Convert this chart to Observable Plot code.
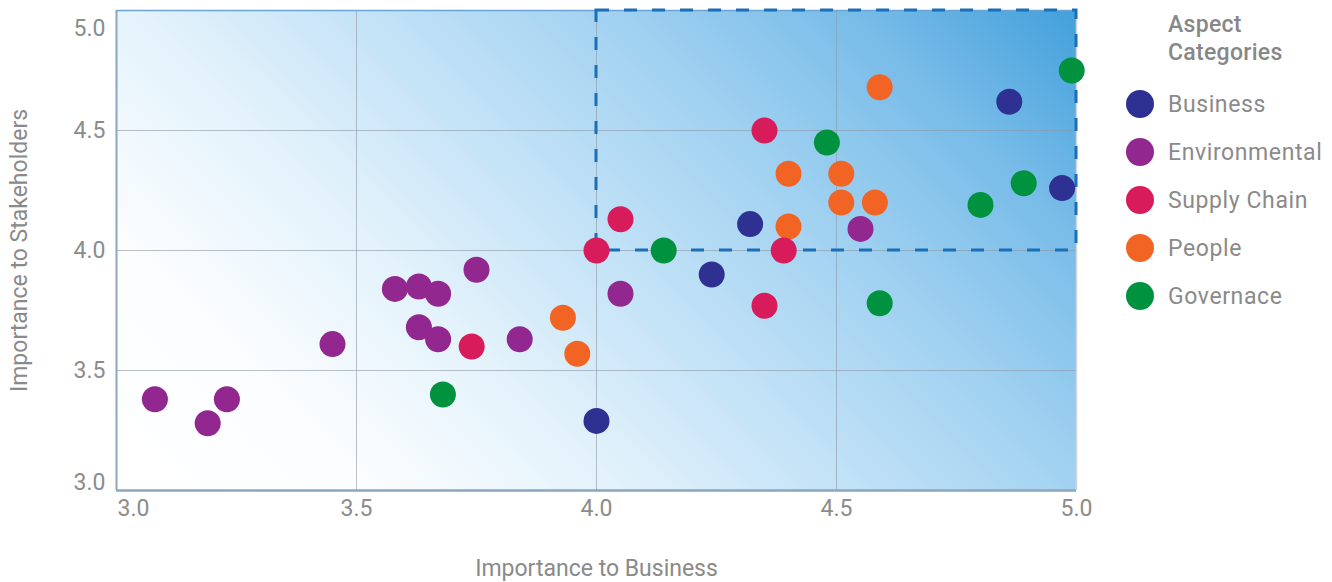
<!DOCTYPE html>
<html>
<head>
<meta charset="utf-8">
<script src="https://cdn.jsdelivr.net/npm/d3@7"></script>
<script src="https://cdn.jsdelivr.net/npm/@observablehq/plot@0.6"></script>
<style>
  html, body { margin: 0; padding: 0; background: #fff; }
  #wrap { position: relative; width: 1332px; height: 582px; font-family: Roboto, "DejaVu Sans", sans-serif; color: #8a8a8a; }
  #legend-title { position: absolute; left: 1168px; top: 11px; font-size: 23px; line-height: 28px; font-weight: 500; color: #878787; letter-spacing: 0.3px; }
  #legend { position: absolute; left: 1126px; top: 80px; }
  .row { display: flex; align-items: center; height: 48px; font-size: 23px; color: #8a8a8a; letter-spacing: 0.6px; }
  .sw { width: 28px; height: 28px; border-radius: 50%; margin-right: 14px; }
</style>
</head>
<body>
<div id="wrap"></div>
<script>
// ---- data ----
const categories = ["Business", "Environmental", "Supply Chain", "People", "Governace"];
const colors = ["#2e3192", "#92278f", "#d81b5a", "#f26424", "#00923f"];
const drawOrder = ["Business", "Environmental", "People", "Supply Chain", "Governace"];

const businessX = [4.00, 4.24, 4.32, 4.86, 4.97];
const businessY = [3.29, 3.90, 4.11, 4.62, 4.26];

const environmentalX = [3.08, 3.19, 3.23, 3.45, 3.58, 3.63, 3.67, 3.75, 3.63, 3.67, 3.84, 4.05, 4.55];
const environmentalY = [3.38, 3.28, 3.38, 3.61, 3.84, 3.85, 3.82, 3.92, 3.68, 3.63, 3.63, 3.82, 4.09];

const supplyChainX = [3.74, 4.00, 4.05, 4.35, 4.39, 4.35];
const supplyChainY = [3.60, 4.00, 4.13, 4.50, 4.00, 3.77];

const peopleX = [3.93, 3.96, 4.40, 4.40, 4.51, 4.51, 4.58, 4.59];
const peopleY = [3.72, 3.57, 4.32, 4.10, 4.32, 4.20, 4.20, 4.68];

const governanceX = [3.68, 4.14, 4.48, 4.59, 4.80, 4.89, 4.99];
const governanceY = [3.40, 4.00, 4.45, 3.78, 4.19, 4.28, 4.75];

const xTicks = [3.0, 3.5, 4.0, 4.5, 5.0];
const yTicks = [3.0, 3.5, 4.0, 4.5, 5.0];
const tickLabels = ["3.0", "3.5", "4.0", "4.5", "5.0"];
const gridValues = [3.5, 4.0, 4.5];
const focusX = [4.0, 5.0];
const focusY = [4.0, 5.0];
const xTitle = "Importance to Business";
const yTitle = "Importance to Stakeholders";
const legendTitle = ["Aspect", "Categories"];

// ---- build rows ----
const series = {
  "Business": [businessX, businessY],
  "Environmental": [environmentalX, environmentalY],
  "Supply Chain": [supplyChainX, supplyChainY],
  "People": [peopleX, peopleY],
  "Governace": [governanceX, governanceY]
};
const rows = [];
for (const c of drawOrder) {
  const [xs, ys] = series[c];
  xs.forEach((x, i) => rows.push({category: c, x, y: ys[i]}));
}
const tickRows = xTicks.map((v, i) => ({v, label: tickLabels[i]}));
const yTickRows = yTicks.map((v, i) => ({v, label: tickLabels[i]}));
const first = (a) => [a[0]];
const last = (a) => [a[a.length - 1]];
const middle = (a) => a.slice(1, -1);

const chart = Plot.plot({
  width: 1332,
  height: 582,
  marginLeft: 116,
  marginRight: 256,
  marginTop: 10,
  marginBottom: 92,
  style: {fontFamily: "Roboto, 'DejaVu Sans', sans-serif", fontSize: "22px", color: "#8a8a8a", background: "white"},
  x: {domain: [xTicks[0], xTicks[xTicks.length - 1]], axis: null},
  y: {domain: [yTicks[0], yTicks[yTicks.length - 1]], axis: null},
  color: {domain: categories, range: colors},
  marks: [
    Plot.frame({fill: "url(#bgGrad)", stroke: null}),
    Plot.ruleX(gridValues, {stroke: "#8d98a3", strokeOpacity: 0.6, strokeWidth: 1}),
    Plot.ruleY(gridValues, {stroke: "#8d98a3", strokeOpacity: 0.6, strokeWidth: 1}),
    // frame edges
    Plot.ruleY(last(yTicks), {stroke: "#6aa5d6", strokeWidth: 1.5}),
    Plot.ruleX(last(xTicks), {stroke: "#d2d6da", strokeWidth: 1.5}),
    Plot.ruleX(first(xTicks), {stroke: "#8ba6bd", strokeWidth: 2}),
    Plot.ruleY(first(yTicks), {stroke: "#8ba6bd", strokeWidth: 2.5}),
    // focus box
    Plot.rect([{x1: focusX[0], x2: focusX[1], y1: focusY[0], y2: focusY[1]}], {
      x1: "x1", x2: "x2", y1: "y1", y2: "y2",
      fill: "none", stroke: "#1a6fb8", strokeWidth: 3, strokeDasharray: "13,15"
    }),
    Plot.dot(rows, {x: "x", y: "y", fill: "category", r: 13}),
    // x tick labels
    Plot.text(middle(tickRows).concat(last(tickRows)), {x: "v", text: "label", frameAnchor: "bottom", dy: 25, fill: "#8c8c8c", fontSize: 23}),
    Plot.text(first(tickRows), {x: "v", text: "label", frameAnchor: "bottom", dy: 25, dx: 17, fill: "#8c8c8c", fontSize: 23}),
    // y tick labels
    Plot.text(middle(yTickRows), {y: "v", text: "label", frameAnchor: "left", dx: -11, textAnchor: "end", fill: "#8c8c8c", fontSize: 23}),
    Plot.text(first(yTickRows), {y: "v", text: "label", frameAnchor: "left", dx: -11, dy: -8, textAnchor: "end", fill: "#8c8c8c", fontSize: 23}),
    Plot.text(last(yTickRows), {y: "v", text: "label", frameAnchor: "left", dx: -11, dy: 18, textAnchor: "end", fill: "#8c8c8c", fontSize: 23}),
    // axis titles
    Plot.text([xTitle], {frameAnchor: "bottom", dy: 85, fill: "#8a8a8a", fontSize: 23, textAnchor: "middle"}),
    Plot.text([yTitle], {frameAnchor: "left", dx: -97, rotate: -90, fill: "#8a8a8a", fontSize: 23, textAnchor: "middle"})
  ]
});

// gradient background defined through the scales
const sx = chart.scale("x"), sy = chart.scale("y");
const x0 = sx.apply(xTicks[0]), y0 = sy.apply(yTicks[0]);
const x1 = sx.apply(xTicks[xTicks.length - 1]), y1 = sy.apply(yTicks[yTicks.length - 1]);
const L = ((x1 - x0) + (y0 - y1)) * Math.SQRT1_2;
const ns = "http://www.w3.org/2000/svg";
const defs = document.createElementNS(ns, "defs");
const grad = document.createElementNS(ns, "linearGradient");
grad.setAttribute("id", "bgGrad");
grad.setAttribute("gradientUnits", "userSpaceOnUse");
grad.setAttribute("x1", x0); grad.setAttribute("y1", y0);
grad.setAttribute("x2", x0 + L * Math.SQRT1_2); grad.setAttribute("y2", y0 - L * Math.SQRT1_2);
[[0, "#ffffff"], [0.18, "#fbfdff"], [0.35, "#e3f2fb"], [0.5, "#c4e3f7"], [0.67, "#a2d2f1"], [0.85, "#76bbe8"], [1, "#42a0db"]]
  .forEach(([o, c]) => {
    const s = document.createElementNS(ns, "stop");
    s.setAttribute("offset", o); s.setAttribute("stop-color", c);
    grad.appendChild(s);
  });
defs.appendChild(grad);
chart.insertBefore(defs, chart.firstChild);

const wrap = document.getElementById("wrap");
wrap.appendChild(chart);

// legend
const lt = document.createElement("div");
lt.id = "legend-title";
lt.innerHTML = legendTitle.join("<br>");
wrap.appendChild(lt);
const lg = document.createElement("div");
lg.id = "legend";
categories.forEach((c, i) => {
  const row = document.createElement("div");
  row.className = "row";
  const sw = document.createElement("div");
  sw.className = "sw";
  sw.style.background = colors[i];
  const t = document.createElement("span");
  t.textContent = c;
  row.appendChild(sw); row.appendChild(t);
  lg.appendChild(row);
});
wrap.appendChild(lg);
</script>
</body>
</html>
